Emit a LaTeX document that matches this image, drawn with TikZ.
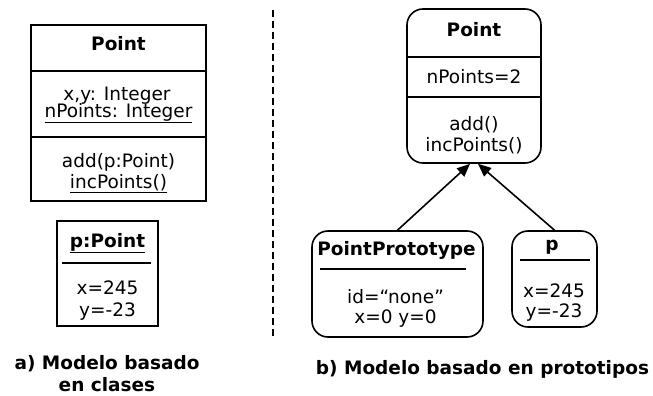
\documentclass[tikz,border=0pt]{standalone}
\usepackage{fontspec}
\setmainfont{DejaVu Sans}
\usetikzlibrary{arrows.meta, calc, positioning}

\begin{document}
\begin{tikzpicture}[x=1pt, y=-1pt,
    txt/.style={anchor=base, inner sep=0pt, font=\fontsize{18.5}{22}\selectfont},
    titulo/.style={txt, font=\fontsize{18.5}{22}\selectfont\bfseries},
    caja/.style={draw, line width=1.6pt, inner sep=0pt},
    redonda/.style={caja, rounded corners=16pt},
    linea/.style={line width=1.6pt}]
    \useasboundingbox (0,0) rectangle (653,396);

    % a) clase Point
    \node[caja, minimum width=175pt, minimum height=176pt] (clase) at (118.5,113) {};
    \draw[linea] (clase.west |- 0,71) -- (clase.east |- 0,71);
    \draw[linea] (clase.west |- 0,137) -- (clase.east |- 0,137);
    \node[titulo] (clase-nom) at (118.5,51) {Point};
    \node[txt] (clase-xy) at (117,100) {x,y: Integer};
    \node[txt] (clase-np) at (118.5,117) {\underline{nPoints: Integer}};
    \node[txt] (clase-add) at (118.5,167) {add(p:Point)};
    \node[txt] (clase-inc) at (118.5,188) {\underline{incPoints()}};

    % a) objeto p
    \node[caja, minimum width=101pt, minimum height=105pt] (objeto) at (107.5,273.5) {};
    \draw[linea] ([xshift=6pt]objeto.west |- 0,263) -- ([xshift=-8pt]objeto.east |- 0,263);
    \node[titulo] (obj-nom) at (107.5,247) {\underline{p:Point}};
    \node[txt] (obj-x) at (107.5,294) {x=245};
    \node[txt] (obj-y) at (107.5,316) {y=-23};

    % separador
    \coordinate (sep-a) at (273,10);
    \coordinate (sep-b) at (273,336);
    \draw[line width=2pt, dash pattern=on 7pt off 4pt] (sep-a) -- (sep-b);

    % b) prototipo Point
    \node[redonda, minimum width=134pt, minimum height=154pt] (proto) at (474,86) {};
    \draw[linea] (proto.west |- 0,57) -- (proto.east |- 0,57);
    \draw[linea] (proto.west |- 0,97) -- (proto.east |- 0,97);
    \node[titulo] (proto-nom) at (474,37) {Point};
    \node[txt] (proto-np) at (474,83) {nPoints=2};
    \node[txt] (proto-add) at (474,130) {add()};
    \node[txt] (proto-inc) at (474,151) {incPoints()};

    % b) PointPrototype y p
    \node[redonda, minimum width=171pt, minimum height=106pt] (ptipo) at (397.5,284) {};
    \draw[linea] ([xshift=9pt]ptipo.west |- 0,269) -- ([xshift=-18pt]ptipo.east |- 0,269);
    \node[titulo] (ptipo-nom) at (396.5,255) {PointPrototype};
    \node[txt] (ptipo-id) at (395.5,303) {id=“none”};
    \node[txt] (ptipo-xy) at (395.5,323) {x=0 y=0};

    \node[redonda, minimum width=85pt, minimum height=96pt] (pobj) at (554.5,279) {};
    \draw[linea] ([xshift=9pt]pobj.west |- 0,260) -- ([xshift=-8pt]pobj.east |- 0,260);
    \node[titulo] (pobj-nom) at (552,250) {p};
    \node[txt] (pobj-x) at (554,297) {x=245};
    \node[txt] (pobj-y) at (554,317) {y=-23};

    % herencia
    \draw[linea, -{Triangle[length=13pt, width=11pt]}] (ptipo.north) -- ([xshift=-4pt]proto.south);
    \draw[linea, -{Triangle[length=13pt, width=11pt]}] (pobj.north) -- ([xshift=4pt]proto.south);

    % leyendas
    \node[titulo, anchor=center, align=center] (ley-a) at (107,374) {a) Modelo basado\\en clases};
    \node[titulo] (ley-b) at (482.5,374) {b) Modelo basado en prototipos};
\end{tikzpicture}
\end{document}
